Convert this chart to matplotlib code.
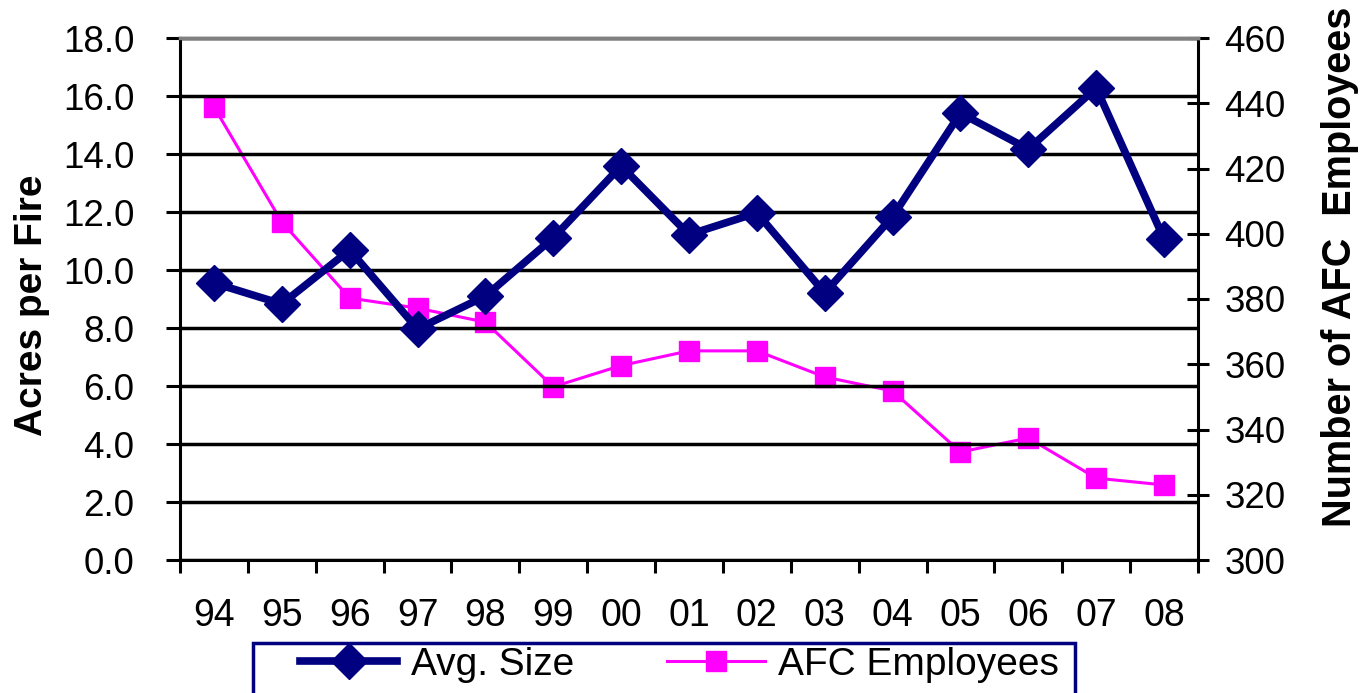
import matplotlib
matplotlib.use("Agg")
import matplotlib.pyplot as plt
from matplotlib.patches import Rectangle
import numpy as np

years = ["94", "95", "96", "97", "98", "99", "00", "01", "02", "03", "04", "05", "06", "07", "08"]
avg_size = [9.55, 8.83, 10.69, 7.97, 9.1, 11.11, 13.59, 11.22, 11.97, 9.21, 11.84, 15.41, 14.17, 16.28, 11.07]
afc_employees = [438.9, 403.6, 380.3, 377.2, 372.9, 353.1, 359.6, 364.1, 364.1, 356.1, 351.8, 333.1, 337.4, 325.1, 323.0]
left_ticks = [0, 2, 4, 6, 8, 10, 12, 14, 16, 18]
right_ticks = [300, 320, 340, 360, 380, 400, 420, 440, 460]

plt.rcParams['font.family'] = ['Liberation Sans', 'DejaVu Sans']

W, H = 1366, 693
fig = plt.figure(figsize=(W / 100, H / 100), dpi=100)
L, R, T, B = 180, 1198, 38, 560
ax = fig.add_axes([L / W, 1 - B / H, (R - L) / W, (B - T) / H])
ax2 = ax.twinx()

navy = "#000080"
magenta = "#FF00FF"
x = np.arange(len(years))

ax.set_xlim(-0.5, len(years) - 0.5)
ax.set_ylim(0, 18)
ax2.set_ylim(300, 460)

# gridlines
ax.set_yticks(left_ticks)
ax.set_yticklabels([f"{v:.1f}" for v in left_ticks])
ax.grid(axis='y', color='black', linewidth=2.5)
ax.set_axisbelow(True)

ln1, = ax.plot(x, avg_size, color=navy, linewidth=5.5, marker='D', markersize=18,
               markerfacecolor=navy, markeredgecolor=navy, zorder=5)
ln2, = ax2.plot(x, afc_employees, color=magenta, linewidth=2.2, marker='s', markersize=15,
                markerfacecolor=magenta, markeredgecolor=magenta, zorder=4)
ax.set_zorder(ax2.get_zorder() + 1)
ax.patch.set_visible(False)

# x ticks: boundaries with ticks, labels at centres
ax.set_xticks(np.arange(-0.5, len(years), 1.0))
ax.set_xticklabels([])
ax.set_xticks(x, minor=True)
ax.set_xticklabels(years, minor=True)
ax.tick_params(axis='x', which='major', direction='out', length=9, width=2.2, color='black')
ax.tick_params(axis='x', which='minor', length=0, pad=27, labelsize=27)

ax.tick_params(axis='y', direction='out', length=10, width=2.2, pad=23, labelsize=26.5)
ax2.set_yticks(right_ticks)
ax2.tick_params(axis='y', direction='inout', length=16, width=2.2, pad=11, labelsize=26.5)

for a in (ax, ax2):
    a.spines['top'].set_color('#808080')
    a.spines['top'].set_linewidth(2.5)
    for s in ('left', 'right', 'bottom'):
        a.spines[s].set_linewidth(2.2)
        a.spines[s].set_color('black')
ax.spines['right'].set_visible(False)
ax2.spines['left'].set_visible(False)
ax2.spines['bottom'].set_visible(False)

fig.text(32 / W, 1 - 305 / H, "Acres per Fire", rotation=90, ha='center', va='center',
         fontsize=28, fontweight='bold')
fig.text(1340 / W, 1 - 267 / H, "Number of AFC  Employees", rotation=90, ha='center', va='center',
         fontsize=28.5, fontweight='bold')

# legend box
fig.patches.append(Rectangle((253 / W, 1 - 720 / H), (1075 - 253) / W, 77 / H,
                             transform=fig.transFigure, facecolor='white', edgecolor=navy,
                             linewidth=2.5, clip_on=False))
leg = fig.legend([ln1, ln2], ["Avg. Size", "AFC Employees"], loc='upper left',
                 bbox_to_anchor=(300 / W, 1 - 647 / H), ncol=2, frameon=False,
                 fontsize=28, borderpad=0, borderaxespad=0, handlelength=2.5,
                 handletextpad=0.35, columnspacing=2.4)

fig.savefig("out.png", dpi=100)
